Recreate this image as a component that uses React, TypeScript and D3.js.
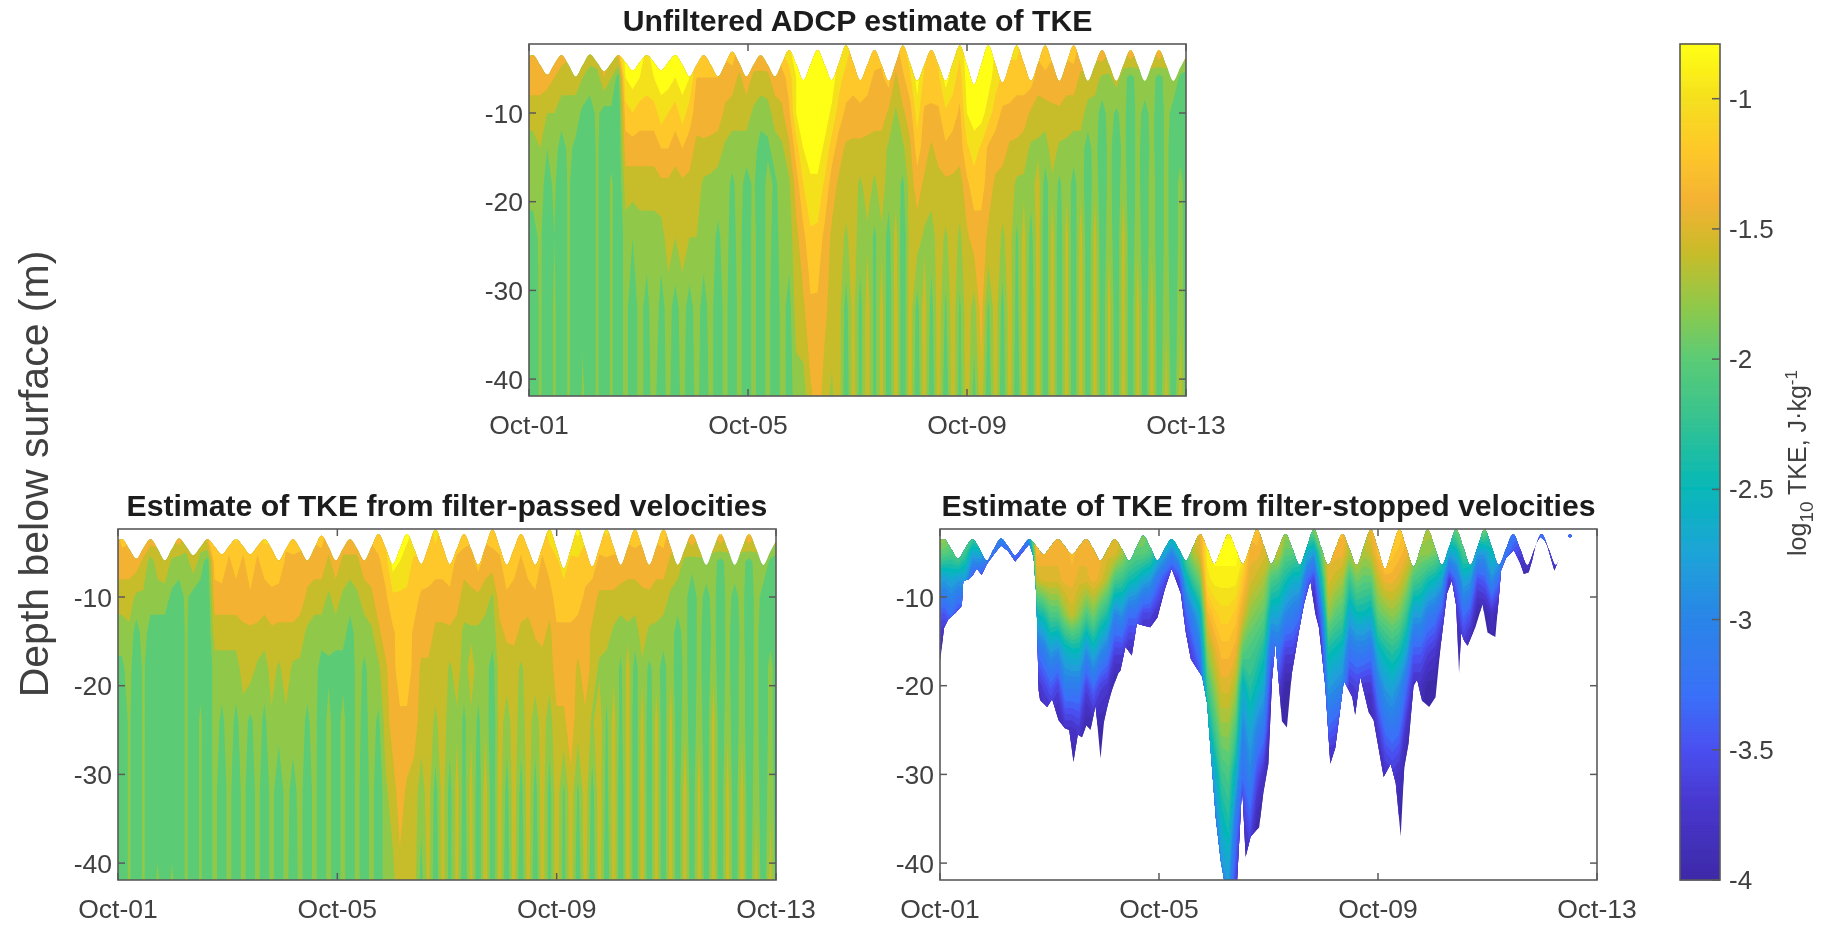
import React from "react";
import * as d3 from "d3";

// Time axis: days after Oct-01 at 00:00
const dateTicks = [0, 4, 8, 12];
const dateLabels = ["Oct-01", "Oct-05", "Oct-09", "Oct-13"];
const depthTicks = [-10, -20, -30, -40];
const depthTickLabels = ["-10", "-20", "-30", "-40"];
const colorTicks = [-1, -1.5, -2, -2.5, -3, -3.5, -4];
const colorTickLabels = ["-1", "-1.5", "-2", "-2.5", "-3", "-3.5", "-4"];

const firstSampleDay = -0.0566;
const lastSampleDay = 12.027;

// Depth of the sea surface at every sample
const surfaceDepth = [-3.7,-3.5,-4.6,-5.7,-4.5,-3.5,-4.6,-5.9,-4.6,-3.4,-4.3,-5.3,-4.4,-3.5,-4.3,-5.2,-4.3,-3.5,-4.3,-5.2,-4.3,-3.5,-4.6,-5.9,-4.6,-3.5,-4.6,-5.9,-4.5,-3.1,-4.4,-5.9,-4.6,-3.5,-4.6,-5.9,-4.4,-2.9,-4.5,-6.3,-4.6,-2.9,-4.6,-6.3,-4.4,-2.4,-4.3,-6.3,-4.6,-2.9,-4.6,-6.4,-4.4,-2.4,-4.4,-6.4,-4.6,-2.9,-4.6,-6.4,-4.4,-2.4,-4.6,-6.8,-4.6,-2.4,-4.5,-6.6,-4.5,-2.4,-4.4,-6.4,-4.4,-2.4,-4.4,-6.4,-4.4,-2.4,-4.4,-6.4,-4.6,-2.9,-4.6,-6.4,-4.6,-2.9,-4.6,-6.4,-4.6,-2.9,-4.6,-6.4,-4.9,-3.4];

// Depth rows of the two full fields
const fullRows = [-2, -6, -10, -14, -18, -24, -32, -42];
// Depth rows of the filter-stopped field
const stoppedRows = [-2, -5, -8, -12, -16, -20, -25, -30, -36, -42];

// One list per sample, one value per depth row; value = -10 * log10(TKE)
const unfilteredTke = [
[14,14,16,18,18,20,21,21],[13,14,16,18,18,20,21,21],[13,14,16,17,18,18.5,18.5,18.5],[14,14,17,19,20,21,21,21],[14,15,17,18,18.5,19,18.5,18.5],[13,16,18,20,21,21,21,21],[14,16,18,18.5,18.5,18.5,18.5,18.5],[15,16,18,19.5,21,21,21,21],[15,17,19.5,21,21,21,19.5,18.5],[15,18,20,21,21,21,21,21],
[14,18,18.5,18.5,18.5,18.5,18.5,18.5],[14,15,20,21,21,21,21,21],[14,17,19.5,20,18.5,18.5,18.5,18.5],[11,20,21,21,21,21,21,21],[8,9,12,14,16,18,18,18],[8,8,11,14,16,19,21,21],[8,9,12,14,16,18,18,18],[9,10,12,14,16,18,20,20],[9,9,12,14,16,18,17,18],[8,8,10,13,15.4,18,20,21],
[8,8,11,13,15.4,16,18,18],[8,9,12,14,16,17,20,21],[8,8,10,13,15.4,16,18,18],[8,9,12,14,15.6,17,20,21],[12,13,14,15.6,16,17,18,18],[10,13,14,15.4,17.4,18,20,21],[11,13,14,15.6,17.6,18,18,18],[12,13,14,16,18,19.5,21,21],[12,14,15.4,17.4,18,18,18,18],[11,14,16,18,19.5,20,21,21],
[13,15.4,16,18,18,18,18,18],[13,14,16,18,20,21,21,21],[13,15.4,17.4,18,18.6,18,18,18],[11,16,18,20,21,21,21,21],[13,15.4,18,19.5,18,18,18,18],[13,14,16,18,19.5,20,21,21],[10,14,15.4,17.4,18,18,18,18],[9,12,13.4,15.4,17.4,18,20,20],[8,9,9,12,14,15.6,16,18],[8,8,8,9,11,13.6,15.4,18],
[8,8,8,8,9.4,11.4,13.4,15.4],[8,8,8,8,9.4,11.6,13.4,14],[8,8,8,9.4,11.4,13.6,14.4,16],[8,8,9.4,12,14,15.4,16,17.4],[9.4,10,12,14,15.4,16,16,15.6],[9,12,13.4,15.4,16,17.4,20,21],[11.4,12,14,15.4,16,16,16,15.6],[9,12,13.4,15.6,17.4,18,20,20],[11.4,12,14,15.6,16,17.4,15.6,15.6],[11.4,13.4,14,16,17.4,19.5,20,20],
[12,13.4,14,16,16,17.4,16,16],[11.4,12,15.4,17.4,18,20,21,21],[13.4,15.4,17.4,18,18,16,15.6,15.6],[11.4,13.4,15.4,17.4,19.5,21,21,21],[9,11.4,14,15.4,16,16,15.6,15.6],[8,8,10,12,14,16,20,21],[10,11.4,13.4,14,15.4,17.4,15.6,15.6],[11.4,12,13.4,15.4,16,18,20,21],[10,11.4,13.4,14,16,16,15.6,15.6],[8,8,11.4,13.4,15.4,17.4,19.5,21],
[9,10,12,14,15.4,16,15.6,15.6],[10,12,13.4,14,16,17.4,19.5,20],[8,8,9,11.4,13.4,15.4,15.6,15.6],[8,8,8,10,12,14,18,20],[8,8,8,11.4,12,14,14,15.6],[8,8,10,13.4,14,15.4,19.5,21],[9,10,12,14,15.4,15.6,15.6,15.6],[9,11.4,13.4,14,16,17.4,20,21],[10,12,13.4,15.4,16,16,15.6,15.6],[10,12,14,15.4,17.4,19.5,20,21],
[11.4,12,14,16,17.4,16,15.6,15.6],[11.4,12,15.4,17.4,18,20,21,21],[12,14,16,17.4,16,15.6,15.6,15.6],[11.4,13.4,16,18,20,21,21,21],[12,14,15.4,16,17.4,16,15.6,15.6],[11.4,13.4,15.4,17.4,19.5,21,21,21],[12,14,16,17.4,17.4,16,16,15.6],[11.4,14,16,18,20,21,21,21],[13.4,15.4,16,18,17.4,16,15.6,15.6],[12,15.4,18,20,21,21,21,21],
[14,16,18,18,17.4,16,15.6,15.6],[12,17.4,20,21,21,21,21,21],[14,17.4,18,18,18,17.4,16,16],[13.4,16,19.5,21,21,21,21,21],[14,18,18,18,17.4,16,16,15.6],[10,20,21,21,21,21,21,21],[14,18,18,18,18,17.4,16,16],[13.4,17.4,20,21,21,21,21,21],[14,18,18,18,17.4,17.4,16,15.6],[10,20,21,21,21,21,21,21],
[14,18,18,18,18,18,17.4,16],[13.4,17.4,20,21,21,21,21,21],[14,19.5,19.5,20,18,18,17.4,16],[12,21,21,21,21,21,21,21],
];

const passedTke = [
[13.4,14,16,18,19.5,20,21,21],[11.4,14,16,18,19.5,21,21,21],[12,14,16,17.4,18,18.5,18.5,18.5],[13.4,14,17.4,20,21,21,21,21],[12,15.4,17.4,18,18.5,18.5,18.5,18.5],[11.4,18,18,20,21,21,21,21],[13.4,16,18,20,21,21,21,18.5],[13.4,15.4,18,20,21,21,21,21],[13.4,17.4,19.5,21,21,21,21,18.5],[11.4,18,20,21,21,21,21,21],
[14,18,18.5,18.5,18.5,18.5,18.5,18.5],[13.4,15.4,20,21,21,21,21,21],[14,18,20,21,20,18.5,18.5,18.5],[11,20,21,21,21,21,21,21],[10,12,14,16,18,18,18,18],[10,11.4,14,16,18,19.5,21,21],[11.4,13.4,14,16,18,18,18,18],[10,12,14,16,18,19.5,21,21],[11.4,13.4,14,15.4,16,18,18,18],[10,11.4,13.4,15.4,16,19.5,21,21],
[11.4,13.4,14,15.4,17.4,18,18,18],[10,12,14,16,18,19.5,21,21],[10,12,13.4,15.4,16,17.4,18,18],[9,11.4,14,15.4,17.4,18,21,21],[12,13.4,14,15.4,16,17.4,18,18],[11.4,13.4,14,15.4,17.4,18,20,21],[12,13.4,14,16,17.4,18,18,18],[12,14,15.4,17.4,18,19.5,21,21],[12,14,16,18,18,18,18,18],[11.4,14,16,18,20,21,21,21],
[13.4,15.4,17.4,18,19.5,18,18,18],[13.4,14,16,18,20,21,21,21],[13.4,15.4,17.4,18,20,18,18,18],[11,16,18,20,21,21,21,21],[13.4,15.4,17.4,18,18,18,18,18],[12,14,16,18,19.5,20,21,21],[12,14,15.4,17.4,18,18,18,18],[11.4,13.4,14,15.4,17.4,19.5,21,21],[10,12,13.4,14,15.4,16,17.4,17.6],[8,8,11.4,13.4,13.6,14,16,17.6],
[8,9,11.4,12,12,13.4,14,15.6],[8,10,11.4,12,12,13.4,15.4,16],[9,11.4,12,13.4,13.6,14,16,16],[8,11.4,13.4,14,15.4,16,18,20],[11.4,12,13.4,14,15.4,16,16,16],[10,12,14,15.4,16,17.4,20,21],[11.4,12,14,15.4,15.6,16,16,15.6],[9,12,13.4,15.4,17.4,18,20,20],[11.4,13.4,14,16,16,17.4,16,16],[11.4,14,16,17.4,18,19.5,20,21],
[12,14,15.4,17.4,16,17.4,16,16],[11.4,12,15.4,17.4,18,19.5,21,21],[12,14,16,18,18,17.4,15.6,15.6],[11.4,14,17.4,18,20,21,21,21],[11.4,13.4,14,15.6,16,16,15.6,15.6],[9,11.4,13.4,14.6,16,18,20,21],[11.4,12,14,14.4,16,16,15.6,15.6],[11.4,13.4,14,15.4,17.4,18,20,21],[11.4,12,14,15.8,16,16,15.6,15.6],[9,11.4,13.4,14.8,16,18,20,21],
[11.4,13.4,14,14.3,16,16,15.6,15.6],[10,12,14,15.6,16,18,20,20],[8,11.4,12,13.4,14,15.4,15.6,15.6],[8,10,12,13.4,14,15.4,19.5,20],[9,11.4,12,13.4,14,14,15.6,15.6],[8,11.4,12,14,15.4,16,19.5,21],[10,12,13.4,14,14,15.4,15.6,15.6],[10,12,14,15.4,15.6,17.4,20,21],[11.4,13.4,15.4,16,17.4,15.6,15.6,15.6],[10,13.4,15.4,16,18,19.5,20,21],
[11.4,13.4,15.4,17.4,17.4,16,15.6,15.6],[11.4,13.4,16,18,19.5,20,21,21],[12,14,16,17.4,16,15.6,15.6,15.6],[11.4,14,16,18,20,21,21,21],[12,14,15.4,16,17.4,16,15.6,15.6],[11.4,13.4,15.4,17.4,19.5,21,21,21],[12,14,16,17.4,18,16,16,15.6],[11.4,14,16,18,20,21,21,21],[13.4,15.4,17.4,18,17.4,16,15.6,15.6],[13.4,16,18,20,21,21,21,21],
[14,17.4,18,18,18,17.4,15.6,15.6],[11,18,21,21,21,21,21,21],[14,17.4,18,18,18,17.4,16,15.6],[13.4,17.4,20,21,21,21,21,21],[14,18,18,18,17.4,16,16,15.6],[10,20,21,21,21,21,21,21],[14,18,18,18,18,17.4,16,15.6],[13.4,17.4,20,21,21,21,21,21],[14,18,18,18,17.4,17.4,16,15.6],[10,20,21,21,21,21,21,21],
[14,18,18,18,18,18,17.4,16],[13.4,17.4,20,21,21,21,21,21],[14,19.5,19.5,20,18,18,17.4,16],[12,21,21,21,21,21,21,21],
];

// Shorter lists reach the weakest level (40) at their last entry and stay there
const stoppedTke = [
[16,20,27,34,39,40],[16,20,28,35,40],[17,21,27,33,39,40],[18,19,28,36,40],[17,22,28,35,40],[17,27,35,40],[18,26,36,40],[20,28,38,40],[24,32,40],[26,34,40],
[28,33,40],[28,32,40],[28,34,40],[22,34,40],[12,13,16,25,33,38,40],[13,14,15,24,31,36,40],[13,14,15,21,28,34,40],[13,14,15,21,29,36,40],[13,14,14,18,26,31,38,40],[12,13,14,16,25,31,38,40],
[13,14,15,18,25,31,37,40],[13,14,15,21,29,36,40],[13,14,14,19,26,33,40],[13,14,15,22,29,36,40],[14,15,17,24,31,37,40],[14,15,21,30,36,40],[15,17,22,29,36,40],[17,19,24,33,38,40],[17,20,25,33,38,40],[18,20,27,36,40],
[19,21,28,36,40],[19,24,32,38,40],[20,27,35,40],[20,30,38,40],[20,26,36,40],[16,20,26,34,38,40],[15,17,22,30,35,38,40],[14,15,19,26,31,36,40],[10,9,10,14,18,22,27,32,38,40],[9,8,9,12,15,18,22,27,32,37],
[9,8,9,11,13,15,18,22,26,30],[9,8,9,11,13,15,18,21,24,28],[9,8,9,12,14,17,21,26,32,36],[10,9,12,15,20,26,30,33,38,40],[13,14,15,18,21,23,27,30,35,40],[12,14,16,19,22,25,30,35,40],[14,15,17,20,24,27,32,38,40],[15,16,21,27,33,37,40],[14,16,22,27,32,36,40],[17,20,24,30,36,40],
[16,20,26,31,36,40],[16,21,26,33,38,40],[18,26,33,38,40],[17,28,36,40],[16,20,25,33,38,40],[13,14,15,18,24,28,34,40],[13,14,16,20,25,29,35,40],[13,14,17,21,26,30,37,40],[15,17,22,27,32,37,40],[13,15,19,25,31,36,40],
[15,17,20,25,31,37,40],[14,16,20,26,32,37,40],[13,13,16,20,26,31,37,40],[10,11,14,19,24,28,33,38,40],[12,12,14,18,23,27,32,37,40],[11,13,15,19,24,29,33,38,40],[13,14,17,22,27,33,38,40],[15,16,21,28,34,38,40],[16,18,22,28,34,38,40],[17,18,24,31,36,40],
[16,19,25,32,37,40],[18,21,27,35,40],[20,27,37,40],[18,26,33,38,40],[18,21,27,33,38,40],[19,21,28,35,40],[18,28,35,40],[17,28,34,40],[22,25,29,38,40],[23,25,33,40],
[30,32,38,40],[30,35,40],[32,36,40],[34,36,40],[36,38,40],[32,34,40],[32,35,40],[32,35,40],[32,35,40],[32,35,40],
[32,35,40],[32,35,40],[32,35,40],[32,35,40],
];

// Lower edge of the filter-stopped field: sample position and depth
const stoppedEdgeSample = [0,0.5,1,1.6,2.6,3.5,3.7,4.5,5,5.6,6.3,7,8,9,10,11,12,13,13.6,14,14.3,14.5,15.5,16.2,17.1,18,18.6,19.2,19.8,20.4,21,21.6,22.3,23,23.5,24,24.6,25.5,25.8,26.5,27.4,28.1,29,30,31,32,33,34.3,35,35.7,36.5,37.3,38,38.2,38.7,39.2,39.9,40.4,42.2,42.6,42.9,43.4,44.1,45.3,45.9,46.6,47.1,47.6,48.5,49.2,49.9,50.9,51.6,52.5,53.2,53.7,54.6,55,55.3,56,57.2,58.4,58.8,59.5,60.7,61.4,62.8,63.8,64.5,65.2,65.7,66.3,67,67.5,68.2,69.2,70.1,70.8,71.7,72.4,73,73.4,73.7,74.1,74.6,75.7,76.7,77.4,78.5,79,79.3,80,81.1,82,82.5,83.2,83.7,84.2,84.8,85.4,85.8,86.3,86.8,87.3,87.8,88.5,89,89.5,93];
const stoppedEdgeDepth = [-17.5,-17,-13.5,-12.5,-11.8,-11,-8.2,-8,-7.6,-6.8,-7.5,-6.3,-5.2,-4.2,-4.8,-6,-5,-4,-5.5,-10,-20.5,-21.6,-22.4,-21.5,-23.9,-24.8,-25,-28.6,-25.5,-25.8,-24.5,-25,-22.2,-28.2,-24,-22.2,-20.5,-18.6,-18.3,-15.6,-16.6,-13,-13.2,-13.4,-12.3,-9.2,-6.8,-9.6,-14,-17,-18,-19,-22,-24.3,-29.5,-34.8,-39.7,-42,-42,-36,-31,-39.3,-37,-36,-32,-28.8,-19.4,-15,-24,-24.7,-18.6,-13.8,-10.8,-8.1,-11.9,-13.4,-20,-25,-28.8,-27,-19.4,-21.3,-23.3,-18.9,-23,-23.9,-30.3,-28.8,-31,-37,-29.2,-26.5,-20,-19.3,-21.7,-22.4,-21.3,-15.6,-9.6,-8.1,-11,-18.6,-14,-14.9,-15.5,-13.4,-10.8,-14,-14.5,-10,-7,-5.6,-4.7,-6.2,-7.4,-7.2,-5.8,-4,-3.2,-3.6,-4.2,-5.6,-7,-6,-4,-3,-3.3,-3,-3];

// Colormap of the colour bar
const colormapLevels = [-4,-3.7,-3.5,-3.3,-3,-2.75,-2.5,-2.2,-2,-1.8,-1.6,-1.4,-1.2,-1,-0.8];
const colormapColors = ["#3e2aa8","#4838d0","#4a50f0","#3a70f8","#2a85e8","#1ea4d8","#06b8b8","#3cc48c","#5ccb75","#90c94a","#c7bc2a","#f3b233","#fec82a","#f5e01f","#ffff14"];
const contourFloorFull = -2.0;
const contourFloorStopped = -4.0;
const contourStepFull = 0.2;
const contourStepStopped = 0.1;

const titles = ["Unfiltered ADCP estimate of TKE", "Estimate of TKE from filter-passed velocities", "Estimate of TKE from filter-stopped velocities"];

const color = d3.scaleLinear<string>().domain(colormapLevels).range(colormapColors).interpolate(d3.interpolateRgb).clamp(true);
const sampleDay = d3.scaleLinear().domain([0, surfaceDepth.length - 1]).range([firstSampleDay, lastSampleDay]);
const FONT = "'Liberation Sans', Arial, sans-serif";
const INK = "#404040";
const BOX = "#5a5a5a";

type PanelSpec = { id: string; title: string; left: number; right: number; top: number; bottom: number; grid: number[][]; rows: number[]; floor: number; step: number; edge: boolean; tickY: number };

function Panel({ p }: { p: PanelSpec }) {
  const x = d3.scaleLinear().domain([0, 12]).range([p.left, p.right]);
  const y = d3.scaleLinear().domain([-10, -40]).range([p.tickY, p.tickY + 266.1]);
  const n = p.grid.length, m = p.rows.length;
  const values: number[] = [];
  for (let r = 0; r < m; r++) for (let c = 0; c < n; c++) values.push(-(p.grid[c][r] ?? 40) / 10);
  const thresholds = d3.range(Math.round((-0.8 - p.floor) / p.step)).map((i) => +(p.floor + p.step / 2 + i * p.step).toFixed(3));
  const rowDepth = d3.scaleLinear().domain(d3.range(m)).range(p.rows).clamp(true);
  const contours = d3.contours().size([n, m]).thresholds(thresholds)(values);
  const toPath = (mp: any) => mp.coordinates.map((poly: number[][][]) => poly.map((ring) =>
    "M" + ring.map(([a, b]) => `${x(sampleDay(a - 0.5)).toFixed(1)},${y(rowDepth(b - 0.5)).toFixed(1)}`).join("L") + "Z").join("")).join("");
  const surfacePath = d3.area<number>().x((_, i) => x(sampleDay(i))).y0(p.bottom + 2).y1((d) => y(d)).curve(d3.curveMonotoneX)(surfaceDepth) as string;
  const edgePath = d3.area<number>().x((_, i) => x(sampleDay(stoppedEdgeSample[i]))).y0(p.top - 2).y1((d) => y(d))(stoppedEdgeDepth) as string;
  const inner = (
    <g>
      <rect x={p.left} y={p.top} width={p.right - p.left} height={p.bottom - p.top} fill={color(p.floor)} />
      {contours.map((c: any) => <path key={c.value} d={toPath(c)} fill={color(c.value + p.step / 2)} fillRule="evenodd" />)}
    </g>
  );
  return (
    <g>
      <defs>
        <clipPath id={`box-${p.id}`}><rect x={p.left} y={p.top} width={p.right - p.left} height={p.bottom - p.top} /></clipPath>
        <clipPath id={`surf-${p.id}`}><path d={surfacePath} /></clipPath>
        {p.edge && <clipPath id={`edge-${p.id}`}><path d={edgePath} /></clipPath>}
      </defs>
      <g clipPath={`url(#box-${p.id})`}>
        <g clipPath={`url(#surf-${p.id})`}>
          {p.edge ? <g clipPath={`url(#edge-${p.id})`}>{inner}</g> : inner}
        </g>
      </g>
      <rect x={p.left} y={p.top} width={p.right - p.left} height={p.bottom - p.top} fill="none" stroke={BOX} strokeWidth={1.6} />
      {dateTicks.map((t, i) => (
        <g key={t}>
          <line x1={x(t)} x2={x(t)} y1={p.bottom} y2={p.bottom - 7} stroke={BOX} strokeWidth={1.5} />
          <line x1={x(t)} x2={x(t)} y1={p.top} y2={p.top + 7} stroke={BOX} strokeWidth={1.5} />
          <text x={x(t)} y={p.bottom + 38} textAnchor="middle" fontSize={26.5} fill={INK} fontFamily={FONT}>{dateLabels[i]}</text>
        </g>
      ))}
      {depthTicks.map((d, i) => (
        <g key={d}>
          <line x1={p.left} x2={p.left + 7} y1={y(d)} y2={y(d)} stroke={BOX} strokeWidth={1.5} />
          <line x1={p.right} x2={p.right - 7} y1={y(d)} y2={y(d)} stroke={BOX} strokeWidth={1.5} />
          <text x={p.left - 6} y={y(d) + 9.5} textAnchor="end" fontSize={26.5} fill={INK} fontFamily={FONT}>{depthTickLabels[i]}</text>
        </g>
      ))}
      <text x={(p.left + p.right) / 2} y={p.top - 13} textAnchor="middle" fontSize={30.2} fontWeight="bold" fill="#1a1a1a" fontFamily={FONT}>{p.title}</text>
    </g>
  );
}

const panels: PanelSpec[] = [
  { id: "a", title: titles[0], left: 529, right: 1186, top: 44, bottom: 396, grid: unfilteredTke, rows: fullRows, floor: contourFloorFull, step: contourStepFull, edge: false, tickY: 113 },
  { id: "b", title: titles[1], left: 118, right: 776, top: 529, bottom: 880, grid: passedTke, rows: fullRows, floor: contourFloorFull, step: contourStepFull, edge: false, tickY: 597 },
  { id: "c", title: titles[2], left: 940, right: 1597, top: 529, bottom: 880, grid: stoppedTke, rows: stoppedRows, floor: contourFloorStopped, step: contourStepStopped, edge: true, tickY: 597 },
];

function ColorBar() {
  const left = 1680, right = 1720;
  const s = d3.scaleLinear().domain([-4, -0.79]).range([880, 44]);
  const steps = d3.range(-4, -0.79, 0.01);
  return (
    <g>
      {steps.map((v) => <rect key={v} x={left} y={s(v + 0.01) - 0.5} width={right - left} height={s(v) - s(v + 0.01) + 1} fill={color(v)} />)}
      <rect x={left} y={44} width={right - left} height={836} fill="none" stroke={BOX} strokeWidth={1.6} />
      {colorTicks.map((t, i) => (
        <g key={t}>
          <line x1={right - 8} x2={right} y1={s(t)} y2={s(t)} stroke={BOX} strokeWidth={1.5} />
          <text x={right + 9} y={s(t) + 9} fontSize={26} fill={INK} fontFamily={FONT}>{colorTickLabels[i]}</text>
        </g>
      ))}
      <text transform="translate(1806,463) rotate(-90)" textAnchor="middle" fontSize={25} fill={INK} fontFamily={FONT}>
        log<tspan dy={7} fontSize={19}>10</tspan><tspan dy={-7}> TKE, J·kg</tspan><tspan dy={-9} fontSize={17}>-1</tspan>
      </text>
    </g>
  );
}

export default function App() {
  return (
    <svg width={1830} height={925} style={{ position: "absolute", left: 0, top: 0, background: "#fff" }}>
      <defs>
        <filter id="soft" filterUnits="userSpaceOnUse" x={0} y={0} width={1830} height={925}><feGaussianBlur stdDeviation="0.7" /></filter>
      </defs>
      <g filter="url(#soft)">
        {panels.map((p) => <Panel key={p.id} p={p} />)}
        <ColorBar />
        <text transform="translate(48,474) rotate(-90)" textAnchor="middle" fontSize={41} fill={INK} fontFamily={FONT}>Depth below surface (m)</text>
      </g>
    </svg>
  );
}
